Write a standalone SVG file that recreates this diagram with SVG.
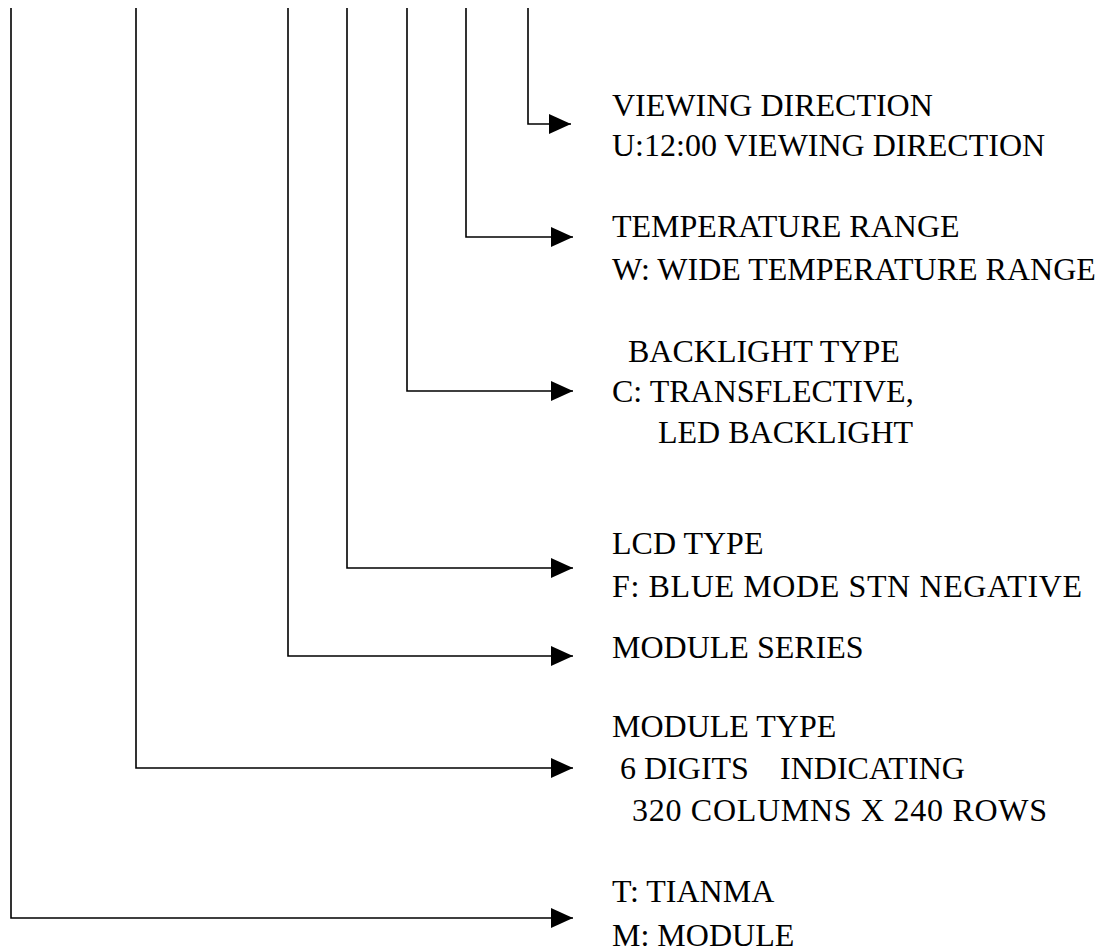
<svg xmlns="http://www.w3.org/2000/svg" width="1106" height="951" viewBox="0 0 1106 951">
<style>
.t{font-family:"Liberation Serif","Times New Roman",serif;font-size:32px;fill:#000}
.c{fill:none;stroke:#000;stroke-width:1.6}
</style>
<defs>
<marker id="ah" viewBox="0 0 22 20" refX="22" refY="10" markerWidth="22" markerHeight="20" markerUnits="userSpaceOnUse" orient="auto">
<path d="M0,0 L22,10 L0,20 Z" fill="#000"/>
</marker>
</defs>
<rect width="1106" height="951" fill="#fff"/>
<g id="connectors">
<path class="c" d="M528,8 V124 H571" marker-end="url(#ah)"/>
<path class="c" d="M466,8 V237 H573" marker-end="url(#ah)"/>
<path class="c" d="M407,8 V391 H573" marker-end="url(#ah)"/>
<path class="c" d="M347,8 V568 H573" marker-end="url(#ah)"/>
<path class="c" d="M288,8 V656 H573" marker-end="url(#ah)"/>
<path class="c" d="M136,8 V768 H573" marker-end="url(#ah)"/>
<path class="c" d="M11,8 V918 H573" marker-end="url(#ah)"/>
</g>
<g id="viewing">
<text class="t" x="612" y="116">VIEWING DIRECTION</text>
<text class="t" x="612" y="156">U:12:00 VIEWING DIRECTION</text>
</g>
<g id="temperature">
<text class="t" x="612" y="237">TEMPERATURE RANGE</text>
<text class="t" x="612" y="280">W: WIDE TEMPERATURE RANGE</text>
</g>
<g id="backlight">
<text class="t" x="628" y="362">BACKLIGHT TYPE</text>
<text class="t" x="612" y="402">C: TRANSFLECTIVE,</text>
<text class="t" x="658" y="443">LED BACKLIGHT</text>
</g>
<g id="lcd">
<text class="t" x="612" y="554">LCD TYPE</text>
<text class="t" x="612" y="597" textLength="470" lengthAdjust="spacing">F: BLUE MODE STN NEGATIVE</text>
</g>
<g id="series">
<text class="t" x="612" y="658">MODULE SERIES</text>
</g>
<g id="type">
<text class="t" x="612" y="737">MODULE TYPE</text>
<text class="t" x="620" y="779">6 DIGITS</text>
<text class="t" x="780" y="779">INDICATING</text>
<text class="t" x="632" y="821" textLength="415" lengthAdjust="spacing">320 COLUMNS X 240 ROWS</text>
</g>
<g id="tianma">
<text class="t" x="612" y="902">T: TIANMA</text>
<text class="t" x="612" y="946">M: MODULE</text>
</g>
</svg>
